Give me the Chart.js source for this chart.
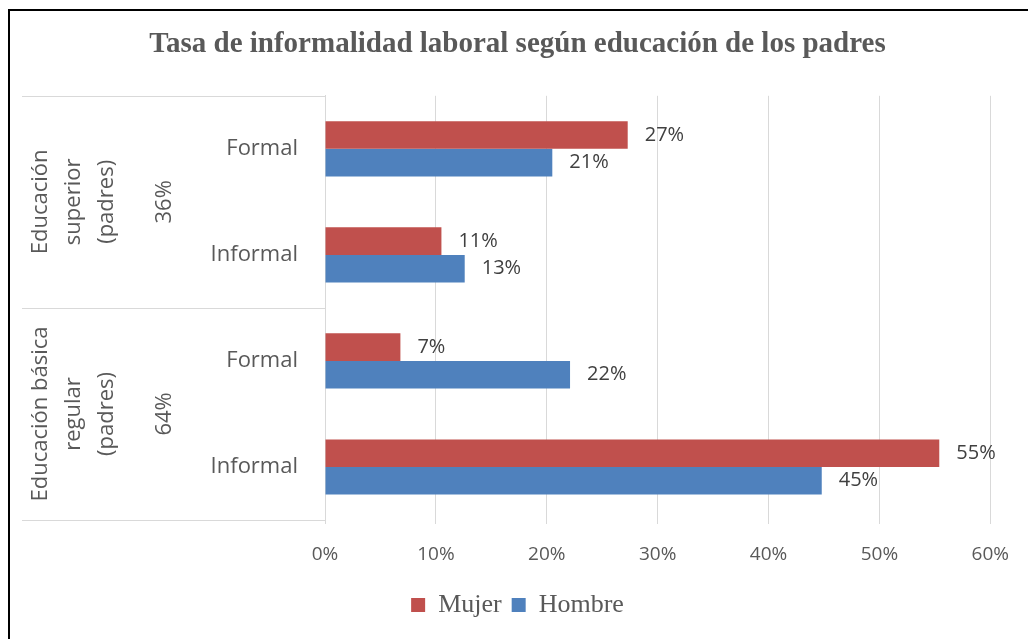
<!DOCTYPE html>
<html>
<head>
<meta charset="utf-8">
<script src="https://cdn.jsdelivr.net/npm/chart.js@4.4.1/dist/chart.umd.min.js"></script>
<style>
  html, body { margin: 0; padding: 0; background: #fff; }
  #wrap { width: 1028px; height: 639px; position: relative; }
</style>
</head>
<body>
<div id="wrap"><canvas id="informalChart" width="1028" height="639"></canvas></div>
<script>
// categories and values
const categories = ["Formal", "Informal", "Formal", "Informal"];
const groupLabels = [["Educación", "superior", "(padres)"], ["Educación básica", "regular", "(padres)"]];
const groupShares = ["36%", "64%"];
const mujer = [27.3, 10.5, 6.8, 55.4];
const hombre = [20.5, 12.6, 22.1, 44.8];
const xTicks = [0, 10, 20, 30, 40, 50, 60];

const gray = "#595959";
const sans = "'Open Sans', 'Noto Sans', sans-serif";
const serif = "'Liberation Serif', 'Times New Roman', serif";

// frame lines + hierarchical left axis
const groupAxis = {
  id: "groupAxis",
  beforeDraw(chart) {
    const c = chart.ctx;
    c.save();
    c.fillStyle = "#fff";
    c.fillRect(0, 0, chart.width, chart.height);
    c.strokeStyle = "#000";
    c.lineWidth = 2;
    c.beginPath();
    c.moveTo(9, 9); c.lineTo(9, chart.height);
    c.moveTo(9, 10); c.lineTo(chart.width, 10);
    c.stroke();
    c.restore();
  },
  afterDraw(chart) {
    const c = chart.ctx, y = chart.scales.y, a = chart.chartArea;
    const mid = (y.getPixelForValue(1) + y.getPixelForValue(2)) / 2;
    const bounds = [a.top, mid, a.bottom];
    c.save();
    c.strokeStyle = "#d9d9d9";
    c.lineWidth = 1;
    c.beginPath();
    bounds.forEach(b => { c.moveTo(22, Math.round(b) + 0.5); c.lineTo(a.left, Math.round(b) + 0.5); });
    c.stroke();
    c.fillStyle = gray;
    c.textAlign = "center";
    c.textBaseline = "middle";
    for (let g = 0; g < 2; g++) {
      const cy = (bounds[g] + bounds[g + 1]) / 2;
      c.save();
      c.translate(0, cy);
      c.rotate(-Math.PI / 2);
      c.font = "22px " + sans;
      groupLabels[g].forEach((t, i) => c.fillText(t, 0, 41 + i * 33));
      c.fillText(groupShares[g], 0, 165);
      c.restore();
    }
    c.restore();
  }
};

// value labels at the end of each bar
const barValues = {
  id: "barValues",
  afterDatasetsDraw(chart) {
    const c = chart.ctx;
    c.save();
    c.font = "20px " + sans;
    c.fillStyle = "#404040";
    c.textAlign = "left";
    c.textBaseline = "middle";
    chart.data.datasets.forEach((ds, di) => {
      chart.getDatasetMeta(di).data.forEach((bar, i) => {
        c.fillText(Math.round(ds.data[i]) + "%", bar.x + 17, bar.y);
      });
    });
    c.restore();
  }
};

new Chart(document.getElementById("informalChart"), {
  type: "bar",
  data: {
    labels: categories,
    datasets: [
      { label: "Mujer", data: mujer, backgroundColor: "#C0504D", categoryPercentage: 0.52, barPercentage: 1 },
      { label: "Hombre", data: hombre, backgroundColor: "#4F81BD", categoryPercentage: 0.52, barPercentage: 1 }
    ]
  },
  plugins: [groupAxis, barValues],
  options: {
    indexAxis: "y",
    responsive: false,
    animation: false,
    layout: { padding: { left: 10, right: 3, top: 10, bottom: 11 } },
    plugins: {
      title: {
        display: true,
        text: "Tasa de informalidad laboral según educación de los padres",
        color: gray,
        font: { family: serif, size: 29, weight: "bold" },
        padding: { top: 17, bottom: 34 }
      },
      legend: {
        position: "bottom",
        labels: { color: gray, font: { family: serif, size: 26 }, boxWidth: 14, boxHeight: 14, padding: 10 }
      },
      tooltip: { enabled: false }
    },
    scales: {
      x: {
        min: 0, max: 60,
        afterBuildTicks(s) { s.ticks = xTicks.map(v => ({ value: v })); },
        ticks: { callback: v => v + "%", color: gray, font: { family: sans, size: 19 }, padding: 19 },
        grid: { color: "#d9d9d9", tickLength: 4 },
        border: { display: false },
        afterFit(s) { s.height = 62; }
      },
      y: {
        ticks: { color: gray, font: { family: sans, size: 22 }, padding: 19 },
        grid: { display: false },
        border: { display: true, color: "#d9d9d9" },
        afterFit(s) { s.width = 315; }
      }
    }
  }
});
</script>
</body>
</html>
